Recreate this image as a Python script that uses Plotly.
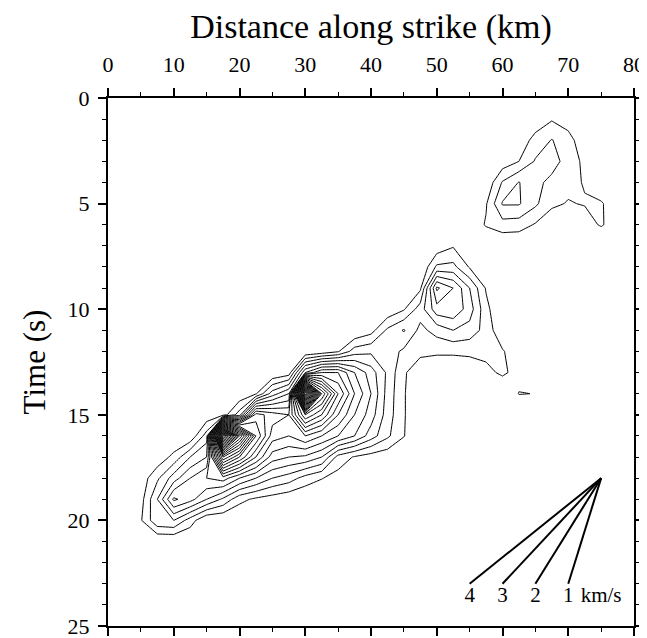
import plotly.graph_objects as go

# ---- grid coordinates ----
distance_km = [0, 2.5, 5, 7.5, 10, 12.5, 15, 17.5, 20, 22.5, 25, 27.5, 30, 32.5, 35, 37.5,
               40, 42.5, 45, 47.5, 50, 52.5, 55, 57.5, 60, 62.5, 65, 67.5, 70, 72.5, 75, 77.5, 80]
time_s = list(range(0, 26))

# ---- slip-rate amplitude (rows = time, cols = distance) ----
#            0  2.5   5  7.5   10 12.5   15 17.5   20 22.5   25 27.5   30 32.5   35 37.5   40 42.5   45 47.5   50 52.5   55 57.5   60 62.5   65 67.5   70 72.5   75 77.5   80
row_t00 = [0, 0, 0, 0, 0, 0, 0, 0, 0, 0, 0, 0, 0, 0, 0, 0, 0, 0, 0, 0, 0, 0, 0, 0, 0, 0, 0, 0, 0, 0, 0, 0, 0]
row_t01 = [0, 0, 0, 0, 0, 0, 0, 0, 0, 0, 0, 0, 0, 0, 0, 0, 0, 0, 0, 0, 0, 0, 0, 0, 0, 0, 0.3, 0.9, 0.5, 0, 0, 0, 0]
row_t02 = [0, 0, 0, 0, 0, 0, 0, 0, 0, 0, 0, 0, 0, 0, 0, 0, 0, 0, 0, 0, 0, 0, 0, 0, 0, 0.3, 1.4, 2.05, 1.4, 0.3, 0, 0, 0]
row_t03 = [0, 0, 0, 0, 0, 0, 0, 0, 0, 0, 0, 0, 0, 0, 0, 0, 0, 0, 0, 0, 0, 0, 0, 0, 0.4, 1.0, 2.1, 2.3, 1.7, 0.7, 0, 0, 0]
row_t04 = [0, 0, 0, 0, 0, 0, 0, 0, 0, 0, 0, 0, 0, 0, 0, 0, 0, 0, 0, 0, 0, 0, 0, 0.2, 2.1, 3.05, 2.2, 1.8, 1.2, 0.95, 0.3, 0, 0]
row_t05 = [0, 0, 0, 0, 0, 0, 0, 0, 0, 0, 0, 0, 0, 0, 0, 0, 0, 0, 0, 0, 0, 0, 0.2, 0.9, 3.1, 3.1, 2.2, 1.15, 0.95, 1.05, 1.1, 0.4, 0]
row_t06 = [0, 0, 0, 0, 0, 0, 0, 0, 0, 0, 0, 0, 0, 0, 0, 0, 0, 0, 0, 0, 0, 0, 0.3, 1.1, 1.6, 1.5, 0.9, 0.5, 0.3, 0.6, 1.1, 0.5, 0]
row_t07 = [0, 0, 0, 0, 0, 0, 0, 0, 0, 0, 0, 0, 0, 0, 0, 0, 0, 0, 0, 0, 0.3, 0.9, 0.3, 0, 0, 0, 0, 0, 0, 0, 0, 0, 0]
row_t08 = [0, 0, 0, 0, 0, 0, 0, 0, 0, 0, 0, 0, 0, 0, 0, 0, 0, 0, 0, 0, 2.2, 2.3, 0.9, 0, 0, 0, 0, 0, 0, 0, 0, 0, 0]
row_t09 = [0, 0, 0, 0, 0, 0, 0, 0, 0, 0, 0, 0, 0, 0, 0, 0, 0, 0, 0, 0.8, 6.2, 5.0, 3.0, 0.9, 0, 0, 0, 0, 0, 0, 0, 0, 0]
row_t10 = [0, 0, 0, 0, 0, 0, 0, 0, 0, 0, 0, 0, 0, 0, 0, 0, 0, 0.2, 0.9, 2.5, 4.6, 4.8, 3.5, 1.3, 0, 0, 0, 0, 0, 0, 0, 0, 0]
row_t11 = [0, 0, 0, 0, 0, 0, 0, 0, 0, 0, 0, 0, 0, 0, 0, 0, 0.6, 2.2, 3.1, 1.7, 2.4, 3.0, 2.6, 1.6, 0.2, 0, 0, 0, 0, 0, 0, 0, 0]
row_t12 = [0, 0, 0, 0, 0, 0, 0, 0, 0, 0, 0, 0, 0, 0.3, 0.9, 2.5, 2.8, 2.5, 1.8, 1.2, 1.15, 1.15, 1.2, 1.3, 1.1, 0.3, 0, 0, 0, 0, 0, 0, 0]
row_t13 = [0, 0, 0, 0, 0, 0, 0, 0, 0, 0, 0, 0.4, 6, 8, 8, 6, 4.5, 2.8, 1.1, 0.5, 0.3, 0.3, 0.4, 0.7, 1.2, 0.6, 0, 0, 0, 0, 0, 0, 0]
row_t14 = [0, 0, 0, 0, 0, 0, 0, 0, 0.2, 0.9, 3.5, 5, 30, 15, 10, 7, 5, 2.6, 1.1, 0, 0, 0, 0, 0, 0, 1.04, 0.98, 0, 0, 0, 0, 0, 0]
row_t15 = [0, 0, 0, 0, 0, 0, 0.3, 0.5, 2.5, 9.5, 8.5, 8, 13, 11, 8, 6, 4.5, 2.5, 1.1, 0, 0, 0, 0, 0, 0, 0, 0, 0, 0, 0, 0, 0, 0]
row_t16 = [0, 0, 0, 0, 0, 0.2, 2.5, 28, 18, 11, 7.5, 7, 8, 7, 6, 5, 3.5, 2.2, 1.05, 0, 0, 0, 0, 0, 0, 0, 0, 0, 0, 0, 0, 0, 0]
row_t17 = [0, 0, 0, 0.3, 1.3, 3, 4, 14, 11, 8, 5.5, 5, 4.8, 4, 1.6, 0.9, 0.5, 0.3, 0, 0, 0, 0, 0, 0, 0, 0, 0, 0, 0, 0, 0, 0, 0]
row_t18 = [0, 0, 0.4, 1.8, 3.5, 5, 6, 6.5, 5, 4, 3, 2.5, 1.6, 1.05, 0.6, 0.2, 0, 0, 0, 0, 0, 0, 0, 0, 0, 0, 0, 0, 0, 0, 0, 0, 0]
row_t19 = [0, 0, 0.6, 3, 6.2, 5.4, 4, 2.8, 1.3, 0.8, 0.5, 0.2, 0, 0, 0, 0, 0, 0, 0, 0, 0, 0, 0, 0, 0, 0, 0, 0, 0, 0, 0, 0, 0]
row_t20 = [0, 0, 0.9, 2.8, 3, 1.5, 0, 0, 0, 0, 0, 0, 0, 0, 0, 0, 0, 0, 0, 0, 0, 0, 0, 0, 0, 0, 0, 0, 0, 0, 0, 0, 0]
row_t21 = [0, 0, 0, 0, 0, 0, 0, 0, 0, 0, 0, 0, 0, 0, 0, 0, 0, 0, 0, 0, 0, 0, 0, 0, 0, 0, 0, 0, 0, 0, 0, 0, 0]
row_t22 = [0, 0, 0, 0, 0, 0, 0, 0, 0, 0, 0, 0, 0, 0, 0, 0, 0, 0, 0, 0, 0, 0, 0, 0, 0, 0, 0, 0, 0, 0, 0, 0, 0]
row_t23 = [0, 0, 0, 0, 0, 0, 0, 0, 0, 0, 0, 0, 0, 0, 0, 0, 0, 0, 0, 0, 0, 0, 0, 0, 0, 0, 0, 0, 0, 0, 0, 0, 0]
row_t24 = [0, 0, 0, 0, 0, 0, 0, 0, 0, 0, 0, 0, 0, 0, 0, 0, 0, 0, 0, 0, 0, 0, 0, 0, 0, 0, 0, 0, 0, 0, 0, 0, 0]
row_t25 = [0, 0, 0, 0, 0, 0, 0, 0, 0, 0, 0, 0, 0, 0, 0, 0, 0, 0, 0, 0, 0, 0, 0, 0, 0, 0, 0, 0, 0, 0, 0, 0, 0]

slip_rate = [row_t00, row_t01, row_t02, row_t03, row_t04, row_t05, row_t06, row_t07, row_t08,
             row_t09, row_t10, row_t11, row_t12, row_t13, row_t14, row_t15, row_t16, row_t17,
             row_t18, row_t19, row_t20, row_t21, row_t22, row_t23, row_t24, row_t25]

# ---- rupture-velocity fan ----
fan_velocities = [4, 3, 2, 1]          # km/s
fan_origin_km = 75
fan_origin_s = 18
fan_duration_s = 5
fan_unit = "km/s"

x_ticks = [0, 10, 20, 30, 40, 50, 60, 70, 80]
y_ticks = [0, 5, 10, 15, 20, 25]

FONT = "Liberation Serif"

fig = go.Figure()

fig.add_trace(go.Contour(
    x=distance_km, y=time_s, z=slip_rate,
    contours=dict(coloring="lines", start=1, end=30, size=1, showlabels=False),
    line=dict(color="black", width=1, smoothing=0),
    colorscale=[[0, "black"], [1, "black"]],
    showscale=False, hoverinfo="skip",
))

for v in fan_velocities:
    fig.add_trace(go.Scatter(
        x=[fan_origin_km, fan_origin_km - v * fan_duration_s],
        y=[fan_origin_s, fan_origin_s + fan_duration_s],
        mode="lines", line=dict(color="black", width=2), showlegend=False, hoverinfo="skip",
    ))

fig.add_trace(go.Scatter(
    x=[fan_origin_km - v * fan_duration_s for v in fan_velocities] + [fan_origin_km],
    y=[fan_origin_s + fan_duration_s + 0.62] * (len(fan_velocities) + 1),
    text=[str(v) for v in fan_velocities] + [fan_unit],
    mode="text", textfont=dict(family=FONT, size=21, color="black"),
    showlegend=False, hoverinfo="skip", cliponaxis=False,
))

axis_common = dict(
    ticks="outside", ticklen=8, tickwidth=1.5, tickcolor="black",
    showline=True, linewidth=2, linecolor="black", mirror="allticks",
    showgrid=False, zeroline=False, automargin=False, ticklabeloverflow="allow",
    tickfont=dict(family=FONT, size=22, color="black"),
)

# the page body adds an 8 px offset, so the figure is drawn 8 px smaller
fig.update_layout(
    width=639, height=630,
    margin=dict(l=100, r=13, t=90, b=12),
    paper_bgcolor="white", plot_bgcolor="white",
    showlegend=False,
    xaxis=dict(
        side="top", range=[0, 80], tickmode="array", tickvals=x_ticks,
        ticklabelstandoff=7,
        minor=dict(dtick=5, tick0=0, ticklen=4, ticks="outside", tickcolor="black", tickwidth=1),
        title=dict(text="Distance along strike (km)", font=dict(family=FONT, size=34, color="black"), standoff=8),
        **axis_common,
    ),
    yaxis=dict(
        range=[25, 0], tickmode="array", tickvals=y_ticks,
        ticklabelstandoff=4,
        minor=dict(dtick=1, tick0=0, ticklen=4, ticks="outside", tickcolor="black", tickwidth=1),
        title=dict(text="Time (s)", font=dict(family=FONT, size=31, color="black"), standoff=13),
        **axis_common,
    ),
)

fig.write_html("out.html")
